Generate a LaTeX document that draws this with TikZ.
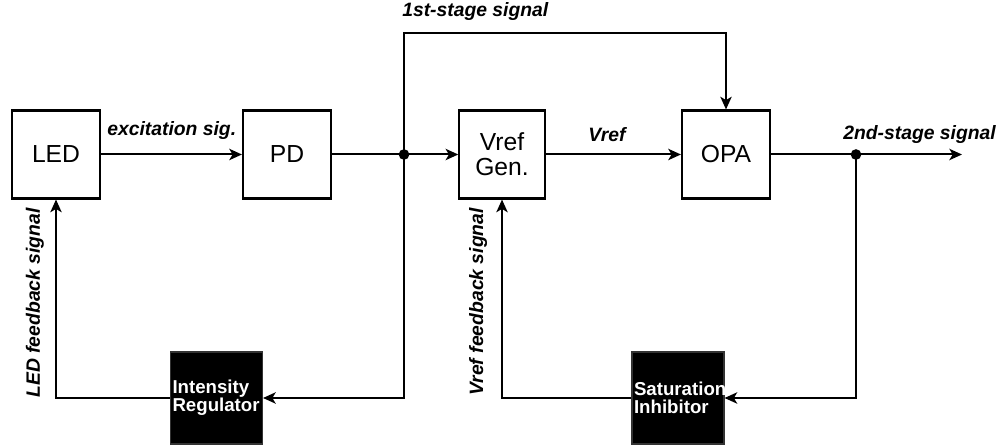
\documentclass[tikz,border=0pt]{standalone}
\usepackage{fontspec}
\setmainfont{Liberation Sans}
\usetikzlibrary{arrows.meta}
\tikzset{
  wbox/.style={draw=black, line width=1.6pt, fill=white, minimum width=66pt, minimum height=66pt, inner sep=0pt, font=\fontsize{18.5pt}{19pt}\selectfont, align=center},
  bbox/.style={draw=black!80, line width=0.8pt, fill=black, text=white, minimum width=69pt, minimum height=69pt, inner xsep=1.5pt, inner ysep=0pt, text width=66pt, font=\bfseries\fontsize{14pt}{13.5pt}\selectfont, align=left},
  conn/.style={line width=1.5pt, line join=miter},
  arr/.style={conn, -{Stealth[length=9.5pt,width=8.5pt,inset=2.5pt]}},
  lbl/.style={font=\bfseries\itshape\fontsize{14.5pt}{16pt}\selectfont, inner sep=0pt},
  jdot/.style={circle, fill=black, minimum size=8pt, inner sep=0pt}
}
\begin{document}
\begin{tikzpicture}[x=0.75pt,y=-0.75pt]
\useasboundingbox (0,0) rectangle (1000,448);
% boxes
\node[wbox] (led) at (56,154.5) {LED};
\node[wbox] (pd) at (287,154.5) {PD};
\node[wbox, minimum width=64pt] (vref) at (502,154.5) {Vref\\Gen.};
\node[wbox] (opa) at (726,154.5) {OPA};
\node[bbox] (ir) at (216.5,398) {Intensity\\Regulator};
\node[bbox] (si) at (678,398) {Saturation\\Inhibitor};
% junctions
\node[jdot] (j1) at (404,154.5) {};
\node[jdot] (j2) at (856,154.5) {};
\coordinate (top) at (404,33);
\coordinate (jb) at (404,398);
\coordinate (out) at (962,154.5);
\coordinate (j2b) at (856,398);
% connectors
\draw[arr] (led.east) -- (pd.west);
\draw[conn] (pd.east) -- (j1.center);
\draw[arr] (j1.center) -- (vref.west);
\draw[arr] (j1.center) -- (top) -| (opa.north);
\draw[arr] (j1.center) -- (jb) -- (ir.east);
\draw[arr] (ir.west) -| (led.south);
\draw[arr] (vref.east) -- (opa.west);
\draw[conn] (opa.east) -- (j2.center);
\draw[arr] (j2.center) -- (out);
\draw[arr] (j2.center) -- (j2b) -- (si.east);
\draw[arr] (si.west) -| (vref.south);
% labels
\node[lbl, anchor=base west] (l1) at (402,17) {1st-stage signal};
\node[lbl, anchor=base west] (l2) at (107,136) {excitation sig.};
\node[lbl, anchor=base west] (l3) at (588,142) {Vref};
\node[lbl, anchor=base west] (l4) at (843,140) {2nd-stage signal};
\node[lbl, rotate=90, anchor=base] (l5) at (40,303) {LED feedback signal};
\node[lbl, rotate=90, anchor=base] (l6) at (483,302) {Vref feedback signal};
\end{tikzpicture}
\end{document}
